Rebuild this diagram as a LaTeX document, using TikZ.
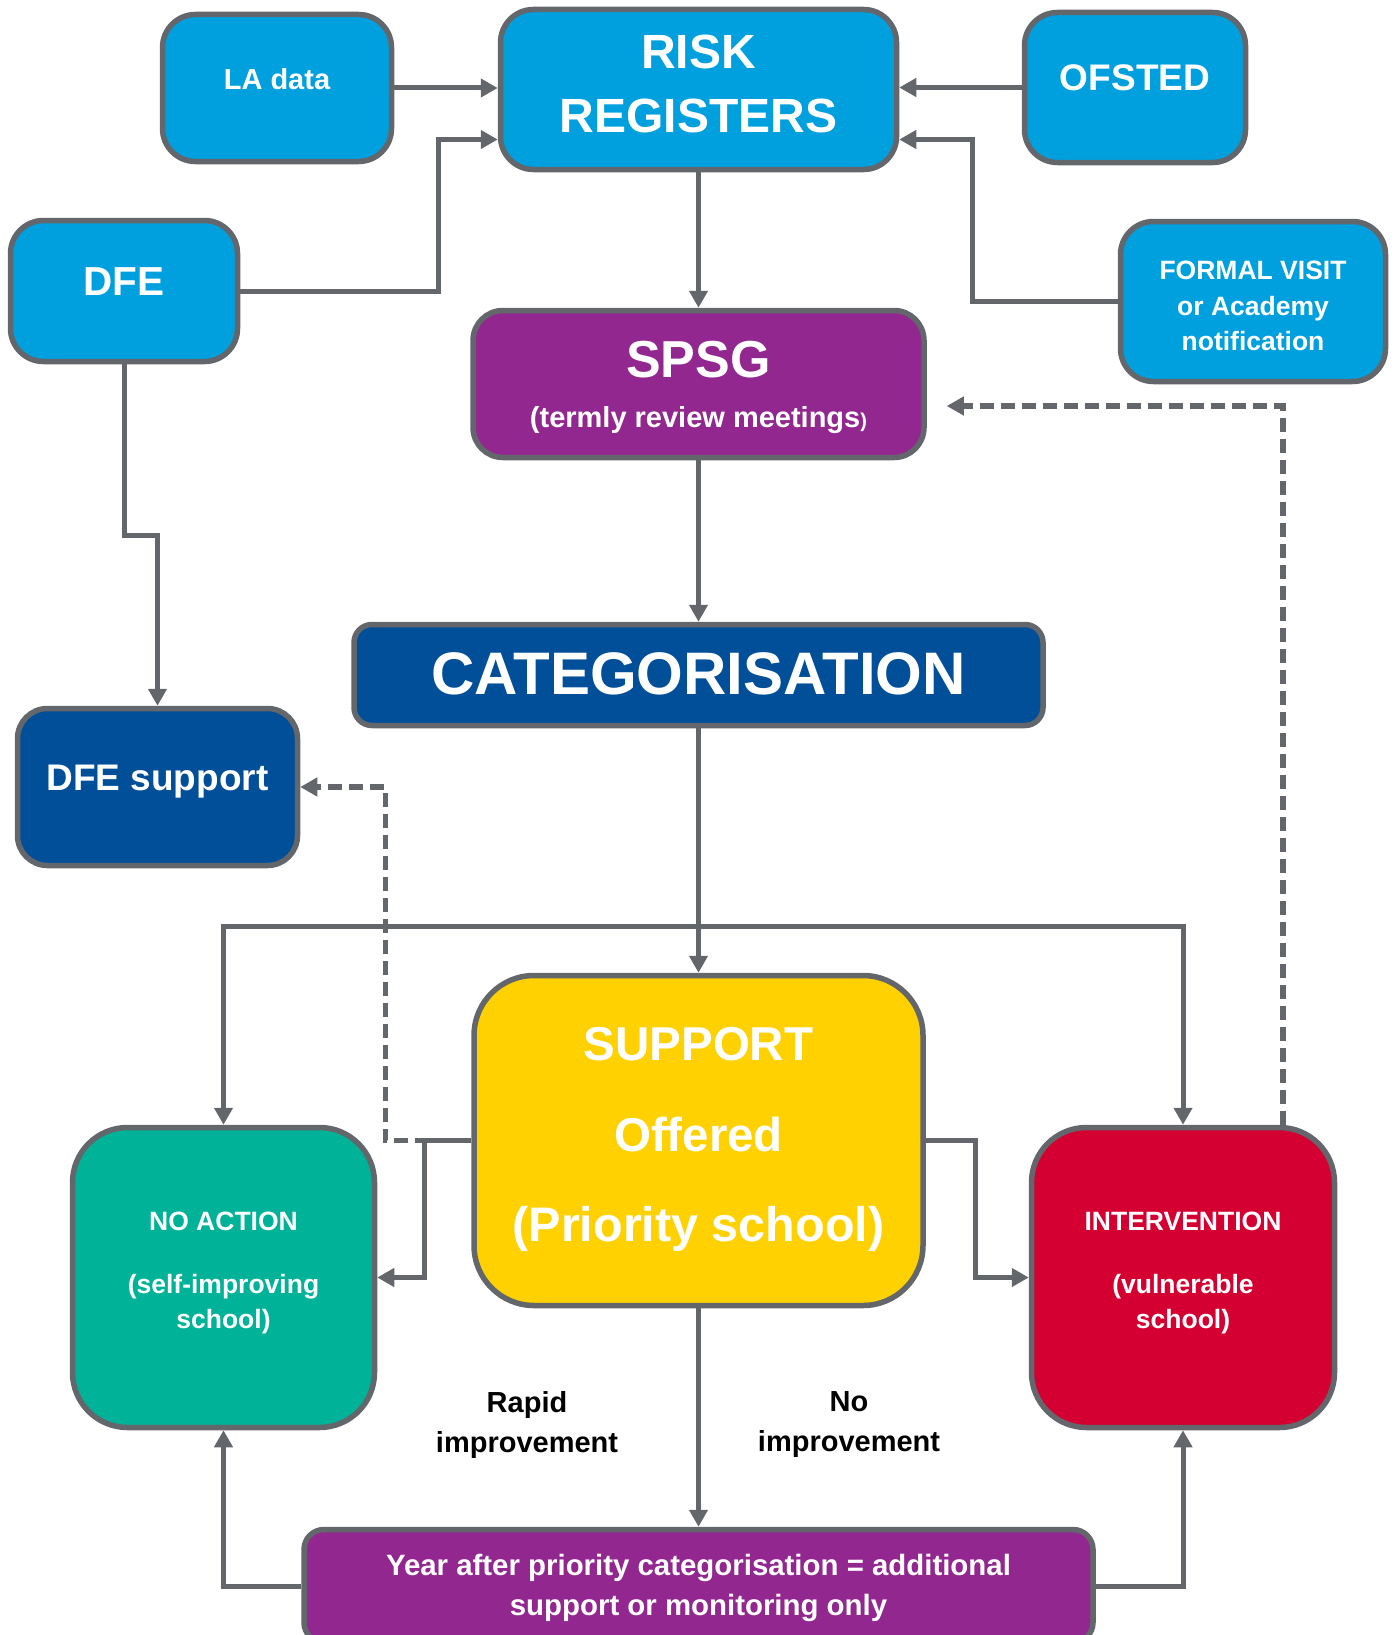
\documentclass[tikz,border=0pt]{standalone}
\usepackage{fontspec}
\setmainfont{Liberation Sans}
\usetikzlibrary{arrows.meta,calc}
\definecolor{lblue}{RGB}{0,160,223}
\definecolor{purp}{RGB}{146,39,143}
\definecolor{dblue}{RGB}{0,79,152}
\definecolor{yel}{RGB}{255,209,0}
\definecolor{tealg}{RGB}{0,178,152}
\definecolor{redv}{RGB}{212,0,50}
\definecolor{lgray}{RGB}{99,102,106}
\newcommand{\fsz}[1]{\fontsize{#1}{#1}\selectfont}
\begin{document}
\begin{tikzpicture}[x=1pt,y=-1pt,
  box/.style={draw=lgray,line width=5.5pt,text=white,align=center,inner sep=0pt,rounded corners=#1},
  box/.default=33pt,
  tf/.style 2 args={font=\bfseries\fontsize{#1}{#2}\selectfont},
  conn/.style={draw=lgray,line width=5pt,-{Triangle[length=17pt,width=18pt]}},
  dconn/.style={conn,line width=5.5pt,dash pattern=on 14pt off 7pt},
  lbl/.style={align=center,text=black,inner sep=0pt}]
\useasboundingbox (0,0) rectangle (1395,1635);
% boxes
\node[box,fill=lblue,minimum width=229pt,minimum height=147pt,tf={29}{35},text depth=18pt] (LA) at (277,88) {LA data};
\node[box,fill=lblue,minimum width=396pt,minimum height=160pt,tf={48}{64},text depth=11pt] (RR) at (698.5,89.5) {RISK\\REGISTERS};
\node[box,fill=lblue,minimum width=221pt,minimum height=150pt,tf={37}{44},text depth=19pt] (OF) at (1135,87.5) {OFSTED};
\node[box,fill=lblue,minimum width=227pt,minimum height=141pt,tf={40.5}{48},text depth=19pt] (DFE) at (124,291) {DFE};
\node[box,fill=lblue,minimum width=265pt,minimum height=160pt,tf={26.5}{35.5},text height=98pt,text depth=0pt] (FV) at (1253,301.5) {FORMAL VISIT\\or Academy\\notification};
\node[box=30pt,fill=purp,minimum width=451pt,minimum height=147pt,tf={29}{50},text depth=0pt] (SPSG) at (698.5,384) {{\fsz{52}SPSG}\\(termly review meetings{\fsz{20})}};
\node[box=18pt,fill=dblue,minimum width=689pt,minimum height=101pt,tf={60}{66},text depth=3pt] (CAT) at (698.5,675) {CATEGORISATION};
\node[box=30pt,fill=dblue,minimum width=280pt,minimum height=157pt,tf={37}{44},text depth=18pt] (DS) at (157.5,787) {DFE support};
\node[box=60pt,fill=yel,minimum width=449pt,minimum height=330pt,tf={47.5}{90.5},text depth=12pt] (SUP) at (698.5,1140.5) {SUPPORT\\Offered\\{\fsz{48.5}(Priority school)}};
\node[box=55pt,fill=tealg,minimum width=302pt,minimum height=300pt,tf={26.5}{34.5},text depth=15pt] (NA) at (223.5,1277.5) {NO ACTION\\[29pt](self-improving\\school)};
\node[box=55pt,fill=redv,minimum width=303pt,minimum height=300pt,tf={26.5}{34.5},text depth=15pt] (IN) at (1183,1277.5) {INTERVENTION\\[29pt](vulnerable\\school)};
\node[box=20pt,fill=purp,minimum width=789pt,minimum height=113pt,tf={29.4}{40},text depth=2pt] (BOT) at (698.5,1586) {Year after priority categorisation = additional\\support or monitoring only};
% labels
\node[lbl,tf={29}{40},text depth=0pt] (RAP) at (527,1422) {Rapid\\improvement};
\node[lbl,tf={29}{40},text depth=0pt] (NOI) at (849,1422) {No\\improvement};
% connectors
\draw[conn] (LA.east) -- (LA.east -| RR.west);
\draw[conn] (DFE.east) -- ++(198,0) |- ($(RR.west)+(0,50)$);
\draw[conn] (OF.west) -- (OF.west -| RR.east);
\draw[conn] (FV.west) -- ++(-145,0) |- ($(RR.east)+(0,50)$);
\draw[conn] (RR.south) -- (SPSG.north);
\draw[conn] (SPSG.south) -- (CAT.north);
\draw[conn] (CAT.south) -- (SUP.north);
\coordinate (br) at ($(CAT.south)+(0,198)$);
\draw[conn] (br) -| (NA.north);
\draw[conn] (br) -| (IN.north);
\draw[conn] (DFE.south) -- ++(0,171) -| (DS.north);
\draw[conn] (SUP.west) -- ++(-47,0) |- (NA.east);
\draw[dconn] (SUP.west) -- ++(-86,0) |- (DS.east);
\draw[conn] (SUP.east) -- ++(50,0) |- (IN.west);
\draw[dconn] ($(IN.north)+(100,0)$) |- ($(SPSG.east)+(20,22)$);
\draw[conn] (SUP.south) -- (BOT.north);
\draw[conn] (BOT.west) -| (NA.south);
\draw[conn] (BOT.east) -| (IN.south);
\end{tikzpicture}
\end{document}
